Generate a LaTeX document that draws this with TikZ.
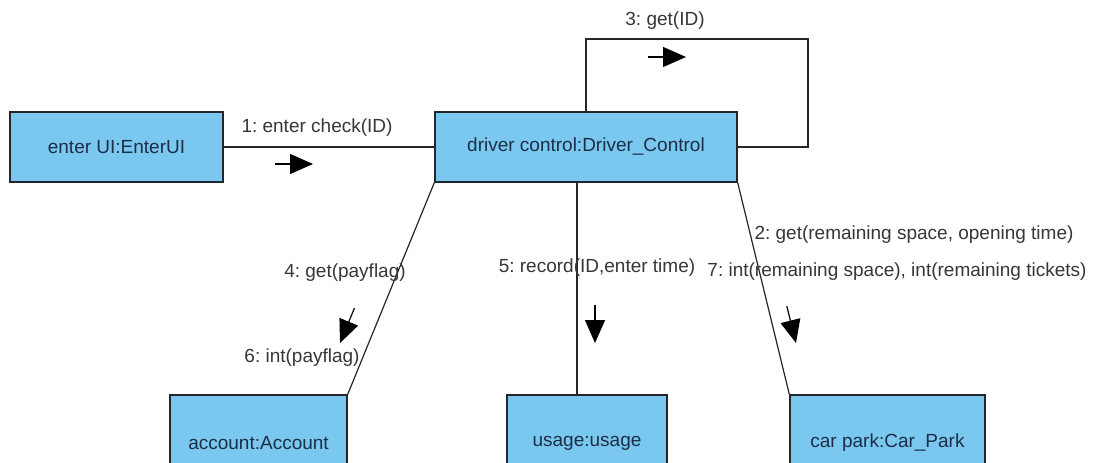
\documentclass[tikz,border=0pt]{standalone}
\usepackage{fontspec}
\setmainfont{Liberation Sans}
\usetikzlibrary{arrows.meta}
\frenchspacing

\definecolor{objfill}{RGB}{122,200,240}
\definecolor{objtext}{RGB}{28,46,70}
\definecolor{objline}{RGB}{35,38,45}
\definecolor{msgtext}{RGB}{55,55,55}

\tikzset{
  obj/.style={draw=objline, line width=1.4pt, fill=objfill, text=objtext,
    inner sep=0pt, font=\fontsize{19}{22}\selectfont},
  link/.style={draw=black!85, line width=1.2pt},
  msglabel/.style={text=msgtext, inner sep=0pt, font=\fontsize{19}{22}\selectfont},
  msgarrow/.style={black, line width=1.2pt,
    -{Triangle[length=23pt,width=20pt]}},
}

\begin{document}
\begin{tikzpicture}[x=1pt,y=-1pt]
  \useasboundingbox (0,0) rectangle (1095,463);
  \clip (0,0) rectangle (1095,463);
  \fill[white] (0,0) rectangle (1095,463);

  % objects
  \node[obj, minimum width=213pt, minimum height=70pt] (enterui) at (116.5,147) {enter UI:EnterUI};
  \node[obj, minimum width=302pt, minimum height=70pt] (driver) at (586,147) {driver control:Driver\_Control};
  \node[obj, minimum width=177pt, minimum height=96pt] (account) at (258.5,443) {account:Account};
  \node[obj, minimum width=160pt, minimum height=96pt] (usage) at (587,443) {usage:usage};
  \node[obj, minimum width=195pt, minimum height=96pt] (carpark) at (887.5,443) {car park:Car\_Park};

  % links
  \draw[link] (enterui.east) -- (driver.west);
  \coordinate (loopcorner) at (808,39);
  \draw[link] (driver.north) |- (loopcorner) |- (driver.east);
  \draw[link] (driver.south west) -- (account.north east);
  \draw[link] ([xshift=-9pt]driver.south) -- ([xshift=-9pt]driver.south |- usage.north);
  \draw[link] (driver.south east) -- (carpark.north west);

  % message labels
  \node[msglabel] (l1) at (317,128) {1: enter check(ID)};
  \node[msglabel] (l3) at (665,21) {3: get(ID)};
  \node[msglabel] (l4) at (345,273) {4: get(payflag)};
  \node[msglabel] (l6) at (302,358) {6: int(payflag)};
  \node[msglabel] (l5) at (597,268) {5: record(ID,enter time)};
  \node[msglabel] (l2) at (914,235) {2: get(remaining space, opening time)};
  \node[msglabel] (l7) at (897,272) {7: int(remaining space), int(remaining tickets)};

  % message direction arrows
  \coordinate (a1s) at (275,164);   \coordinate (a1e) at (313,164);
  \coordinate (a3s) at (648,57);    \coordinate (a3e) at (686,57);
  \coordinate (a4s) at (354.5,308); \coordinate (a4e) at (340,343);
  \coordinate (a5s) at (595,305);   \coordinate (a5e) at (595,343);
  \coordinate (a2s) at (786.8,306); \coordinate (a2e) at (796,343);
  \draw[msgarrow] (a1s) -- (a1e);
  \draw[msgarrow] (a3s) -- (a3e);
  \draw[msgarrow] (a4s) -- (a4e);
  \draw[msgarrow] (a5s) -- (a5e);
  \draw[msgarrow] (a2s) -- (a2e);
\end{tikzpicture}
\end{document}
